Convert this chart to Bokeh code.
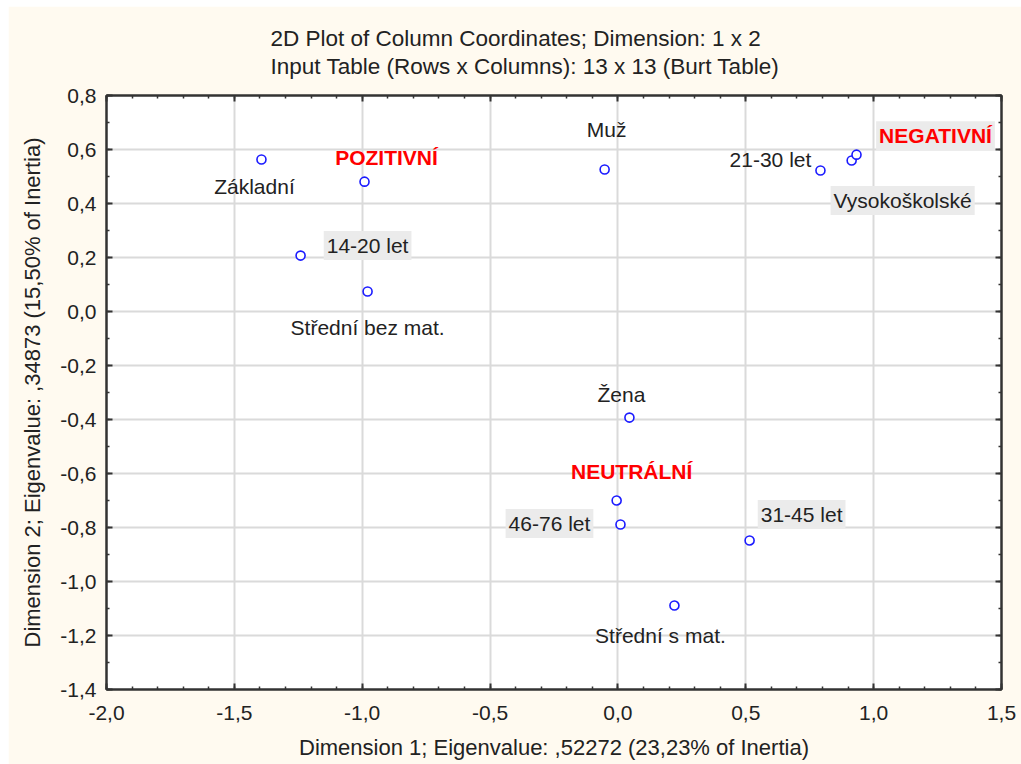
from bokeh.plotting import figure
from bokeh.layouts import column, row
from bokeh.models import (ColumnDataSource, LinearAxis, Title, FixedTicker,
                          CustomJSTickFormatter, Range1d, Spacer)
from bokeh.core.properties import value
from bokeh.embed import file_html
from bokeh.resources import INLINE

# ---- data ----
labels = ["Základní", "POZITIVNÍ", "14-20 let", "Střední bez mat.", "Muž",
          "21-30 let", "Vysokoškolské", "NEGATIVNÍ", "Žena", "NEUTRÁLNÍ",
          "46-76 let", "31-45 let", "Střední s mat."]
dim1 = [-1.394, -0.991, -1.241, -0.979, -0.052, 0.792, 0.914, 0.933,
        0.045, -0.005, 0.010, 0.515, 0.221]
dim2 = [0.563, 0.481, 0.207, 0.074, 0.526, 0.522, 0.559, 0.581,
        -0.393, -0.700, -0.789, -0.848, -1.089]
x_ticks = [-2.0, -1.5, -1.0, -0.5, 0.0, 0.5, 1.0, 1.5]
y_ticks = [-1.4, -1.2, -1.0, -0.8, -0.6, -0.4, -0.2, 0.0, 0.2, 0.4, 0.6, 0.8]
x_minor = [round(-2.0 + 0.1 * i, 1) for i in range(36)]
y_minor = [round(-1.4 + 0.1 * i, 1) for i in range(23)]
title_lines = ["2D Plot of Column Coordinates; Dimension:  1 x 2",
               "Input Table (Rows x Columns): 13 x 13 (Burt Table)"]

# ---- label styling (layout, not data) ----
style = ["plain", "red", "boxed", "plain", "plain", "plain", "boxed",
         "redboxed", "plain", "red", "boxed", "boxed", "plain"]
dx = [-7, 22, 67, 0, 2, -50, 51, 79, -8, 15, -71, 52, -14]
dy = [27, -24, -10, 36, -40, -11, 40, -19, -23, -29, -1, -26, 30]

FONT = "Liberation Sans"
BG = "#fffaf0"
INK = "#222222"
FRAME = "#333333"

p = figure(width=1013, height=758, output_backend="svg", toolbar_location=None,
           x_range=Range1d(-2.0, 1.5), y_range=Range1d(-1.4, 0.8),
           min_border_left=98, min_border_right=20, min_border_top=89,
           min_border_bottom=75, background_fill_color="white",
           border_fill_color=BG, outline_line_color=FRAME,
           outline_line_width=2)

bottom_ax = p.xaxis[0]
left_ax = p.yaxis[0]

fmt = CustomJSTickFormatter(code="""
    var v = Math.abs(tick) < 1e-9 ? 0 : tick;
    return v.toFixed(1).replace('.', ',');
""")
blank = CustomJSTickFormatter(code="return '';")

bottom_ax.ticker = FixedTicker(ticks=x_ticks, minor_ticks=x_minor)
left_ax.ticker = FixedTicker(ticks=y_ticks, minor_ticks=y_minor)
bottom_ax.formatter = fmt
left_ax.formatter = fmt
bottom_ax.axis_label = "Dimension 1; Eigenvalue: ,52272 (23,23% of Inertia)"
left_ax.axis_label = "Dimension 2; Eigenvalue: ,34873 (15,50% of Inertia)"

top_ax = LinearAxis(ticker=FixedTicker(ticks=x_ticks, minor_ticks=x_minor),
                    formatter=blank, major_label_standoff=0)
right_ax = LinearAxis(ticker=FixedTicker(ticks=y_ticks, minor_ticks=y_minor),
                      formatter=blank, major_label_standoff=0)
p.add_layout(top_ax, "above")
p.add_layout(right_ax, "right")

for ax in [bottom_ax, left_ax, top_ax, right_ax]:
    ax.axis_line_color = FRAME
    ax.axis_line_width = 2
    ax.major_tick_in = 6
    ax.major_tick_out = 0
    ax.minor_tick_in = 3
    ax.minor_tick_out = 0
    ax.major_tick_line_color = FRAME
    ax.minor_tick_line_color = FRAME
    ax.major_tick_line_width = 2
    ax.minor_tick_line_width = 1.5
    ax.major_label_text_font = FONT
    ax.major_label_text_color = INK
    ax.axis_label_text_font = FONT
    ax.axis_label_text_font_style = "normal"
    ax.axis_label_text_font_size = "22px"
    ax.axis_label_text_color = INK

for ax in [bottom_ax, left_ax]:
    ax.major_label_text_font_size = "21px"
bottom_ax.major_label_standoff = 16
left_ax.major_label_standoff = 10
bottom_ax.axis_label_standoff = 12
left_ax.axis_label_standoff = 12

p.xgrid.ticker = FixedTicker(ticks=x_ticks)
p.ygrid.ticker = FixedTicker(ticks=y_ticks)
p.grid.grid_line_color = "#dadada"
p.grid.grid_line_width = 2

# two-line title
ttl = Title(text="\n".join(title_lines), align="left", offset=164,
            text_font=FONT, text_font_size="22.5px", text_font_style="normal",
            text_color=INK, standoff=34, text_line_height=1.1)
p.add_layout(ttl, "above")

# points
pts = ColumnDataSource(dict(x=dim1, y=dim2))
p.scatter("x", "y", source=pts, marker="circle", size=9, line_color="#1a1aff",
          line_width=1.6, fill_color="white")

def subset(kinds):
    idx = [i for i, s in enumerate(style) if s in kinds]
    return ColumnDataSource(dict(x=[dim1[i] for i in idx], y=[dim2[i] for i in idx],
                                 t=[labels[i] for i in idx], dx=[dx[i] for i in idx],
                                 dy=[dy[i] for i in idx]))

common = dict(x="x", y="y", text="t", x_offset="dx", y_offset="dy",
              text_align="center", text_baseline="middle",
              text_font=value(FONT))
p.text(source=subset(["plain"]), text_color=INK, text_font_size="21px", **common)
p.text(source=subset(["boxed"]), text_color=INK, text_font_size="21px",
       background_fill_color="#ebebeb", padding=3, **common)
p.text(source=subset(["red"]), text_color="#ff0000", text_font_size="21px",
       text_font_style="bold", **common)
p.text(source=subset(["redboxed"]), text_color="#ff0000", text_font_size="21px",
       text_font_style="bold", background_fill_color="#ebebeb", padding=3, **common)

layout = column(Spacer(height=6), row(Spacer(width=8), p))
open("out.html", "w").write(file_html(layout, INLINE))
